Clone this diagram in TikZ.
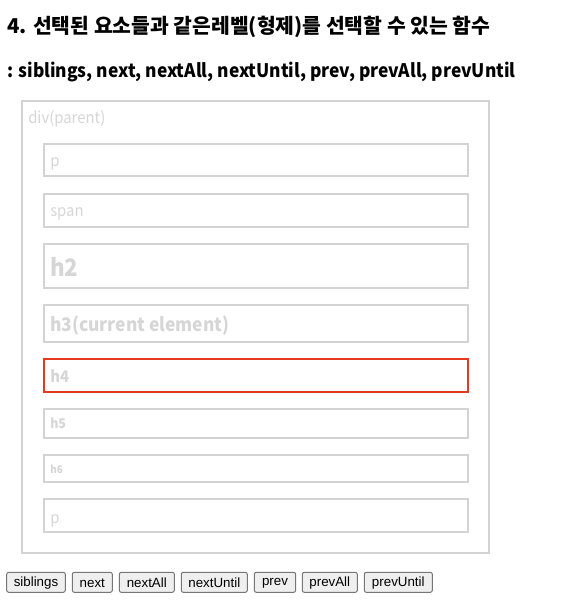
\documentclass[tikz,border=0pt]{standalone}
\usepackage{fontspec}
\setmainfont[FakeStretch=0.93]{Noto Sans CJK KR}
\newfontfamily\krfont{Noto Sans CJK KR}
\newfontfamily\btnfont{Liberation Sans}
\definecolor{boxgray}{HTML}{D3D3D3}
\definecolor{txtgray}{HTML}{D6D6D6}
\definecolor{hilite}{HTML}{E63A1E}
\definecolor{btnfill}{HTML}{EFEFEF}
\definecolor{btnedge}{HTML}{767676}
\tikzset{
  x=0.75pt, y=-0.75pt,
  outerbox/.style={draw=boxgray, line width=1.5pt},
  elembox/.style={draw=boxgray, line width=1.5pt},
  redbox/.style={draw=hilite, line width=1.5pt},
  lbl/.style={anchor=base west, inner sep=0pt, text=txtgray},
  ttl/.style={anchor=base west, inner sep=0pt, text=black},
  btn/.style={draw=btnedge, fill=btnfill, rounded corners=1.5pt, line width=0.75pt},
  btntext/.style={inner sep=0pt, font=\btnfont\fontsize{10pt}{12pt}\selectfont, text=black},
}
\begin{document}
\begin{tikzpicture}
\useasboundingbox (0,0) rectangle (561,612);
\node[ttl, font=\krfont\bfseries\fontsize{15.3pt}{17pt}\selectfont] (t1) at (7,33) {4. 선택된 요소들과 같은레벨(형제)를 선택할 수 있는 함수};
\node[ttl, font=\bfseries\fontsize{14pt}{16pt}\selectfont] (t2) at (7,77) {: siblings, next, nextAll, nextUntil, prev, prevAll, prevUntil};

\draw[outerbox] (22,101) rectangle (489,553);
\node[lbl, font=\fontsize{12pt}{14pt}\selectfont] (parent) at (28,123) {div(parent)};

\draw[elembox] (44,144) rectangle (468,176);
\node[lbl, font=\fontsize{12pt}{14pt}\selectfont] (p1) at (50,166) {p};
\draw[elembox] (44,194) rectangle (468,227);
\node[lbl, font=\fontsize{12pt}{14pt}\selectfont] (span) at (50,216) {span};
\draw[elembox] (44,244) rectangle (468,288);
\node[lbl, font=\bfseries\fontsize{18pt}{20pt}\selectfont] (h2) at (50,276) {h2};
\draw[elembox] (44,305) rectangle (468,342);
\node[lbl, font=\bfseries\fontsize{14pt}{16pt}\selectfont] (h3) at (50,331) {h3(current element)};
\draw[redbox] (44,359) rectangle (468,392);
\node[lbl, font=\bfseries\fontsize{12pt}{14pt}\selectfont] (h4) at (50,382) {h4};
\draw[elembox] (44,409) rectangle (468,438);
\node[lbl, font=\bfseries\fontsize{10pt}{12pt}\selectfont] (h5) at (50,428) {h5};
\draw[elembox] (44,455) rectangle (468,482);
\node[lbl, font=\bfseries\fontsize{8pt}{10pt}\selectfont] (h6) at (50,473) {h6};
\draw[elembox] (44,499) rectangle (468,532);
\node[lbl, font=\fontsize{12pt}{14pt}\selectfont] (p2) at (50,523) {p};

\foreach \a/\b/\t in {6.7/65.3/siblings, 72.3/112.3/next, 119.3/174.3/nextAll, 181.3/247.3/nextUntil, 254.3/295.7/prev, 302.3/357.3/prevAll, 364.3/432.3/prevUntil}{
  \draw[btn] (\a,572.3) rectangle (\b,592.3);
  \node[btntext] (b-\t) at ({(\a+\b)/2},582.8) {\t};
}
\end{tikzpicture}
\end{document}
